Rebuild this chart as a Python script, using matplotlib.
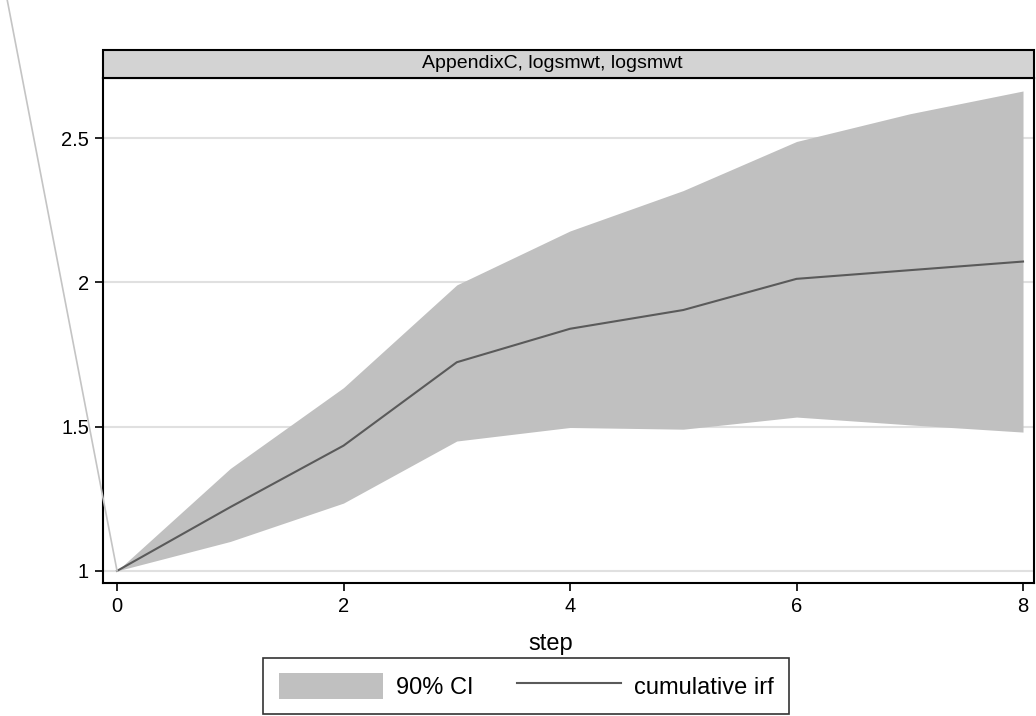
import matplotlib
matplotlib.use("Agg")
import matplotlib.pyplot as plt
from matplotlib.patches import Rectangle, Patch
from matplotlib.lines import Line2D

plt.rcParams['font.family'] = ['Liberation Sans', 'DejaVu Sans']

# Data
steps = [0, 1, 2, 3, 4, 5, 6, 7, 8]
irf = [1.0, 1.221, 1.434, 1.723, 1.839, 1.904, 2.012, 2.042, 2.072]
ci_upper = [1.0, 1.355, 1.635, 1.991, 2.178, 2.318, 2.488, 2.584, 2.663]
ci_lower = [1.0, 1.102, 1.235, 1.450, 1.497, 1.491, 1.533, 1.506, 1.481]
# stray line leaving the panel at step 0
stray_x = [0, -1.3]
stray_y = [1.0, 1.0 + 2.04 * 1.3]

yticks = [1, 1.5, 2, 2.5]
ytick_labels = ["1", "1.5", "2", "2.5"]
xticks = [0, 2, 4, 6, 8]

fig = plt.figure(figsize=(10.36, 7.16), dpi=100)
ax = fig.add_axes([103 / 1036, 1 - 583 / 716, 931 / 1036, 505 / 716])

for y in yticks:
    ax.axhline(y, color='#e0e0e0', lw=1.5, zorder=0)

ax.fill_between(steps, ci_lower, ci_upper, color='#c0c0c0', lw=0, zorder=1)
ax.plot(steps, irf, color='#5a5a5a', lw=1.5, zorder=2)
ax.plot(stray_x, stray_y, color='#c4c4c4', lw=1.2, clip_on=False, zorder=3)

ax.set_xlim(-0.124, 8.097)
ax.set_ylim(0.958, 2.708)
ax.set_xticks(xticks)
ax.set_yticks(yticks)
ax.set_yticklabels(ytick_labels)
ax.tick_params(axis='both', direction='out', length=6, width=1.2, labelsize=14.5, colors='black', pad=4)
for s in ax.spines.values():
    s.set_linewidth(1.5)
    s.set_color('black')
ax.set_xlabel('step', fontsize=17, labelpad=12)
ax.xaxis.label.set_x((551 - 103) / 931)

# strip title
strip = Rectangle((0, 1), 1, 28 / 505, transform=ax.transAxes, facecolor='#d3d3d3',
                  edgecolor='black', lw=1.5, clip_on=False, zorder=5)
ax.add_patch(strip)
ax.text((552 - 103) / 931, 1 + 14 / 505, 'AppendixC, logsmwt, logsmwt', transform=ax.transAxes,
        ha='center', va='center', fontsize=14, zorder=6)

handles = [Patch(facecolor='#c0c0c0', edgecolor='none'),
           Line2D([0], [0], color='#5a5a5a', lw=1.5)]
leg = fig.legend(handles, ['90% CI', 'cumulative irf'], loc='lower center',
                 bbox_to_anchor=(526 / 1036, 2 / 716), ncol=2, fontsize=17,
                 frameon=True, fancybox=False, edgecolor='black',
                 handlelength=4.4, handleheight=1.3, columnspacing=1.85,
                 handletextpad=0.55, borderpad=0.65, borderaxespad=0)
leg.get_frame().set_linewidth(1.2)

fig.savefig('out.png', dpi=100)
